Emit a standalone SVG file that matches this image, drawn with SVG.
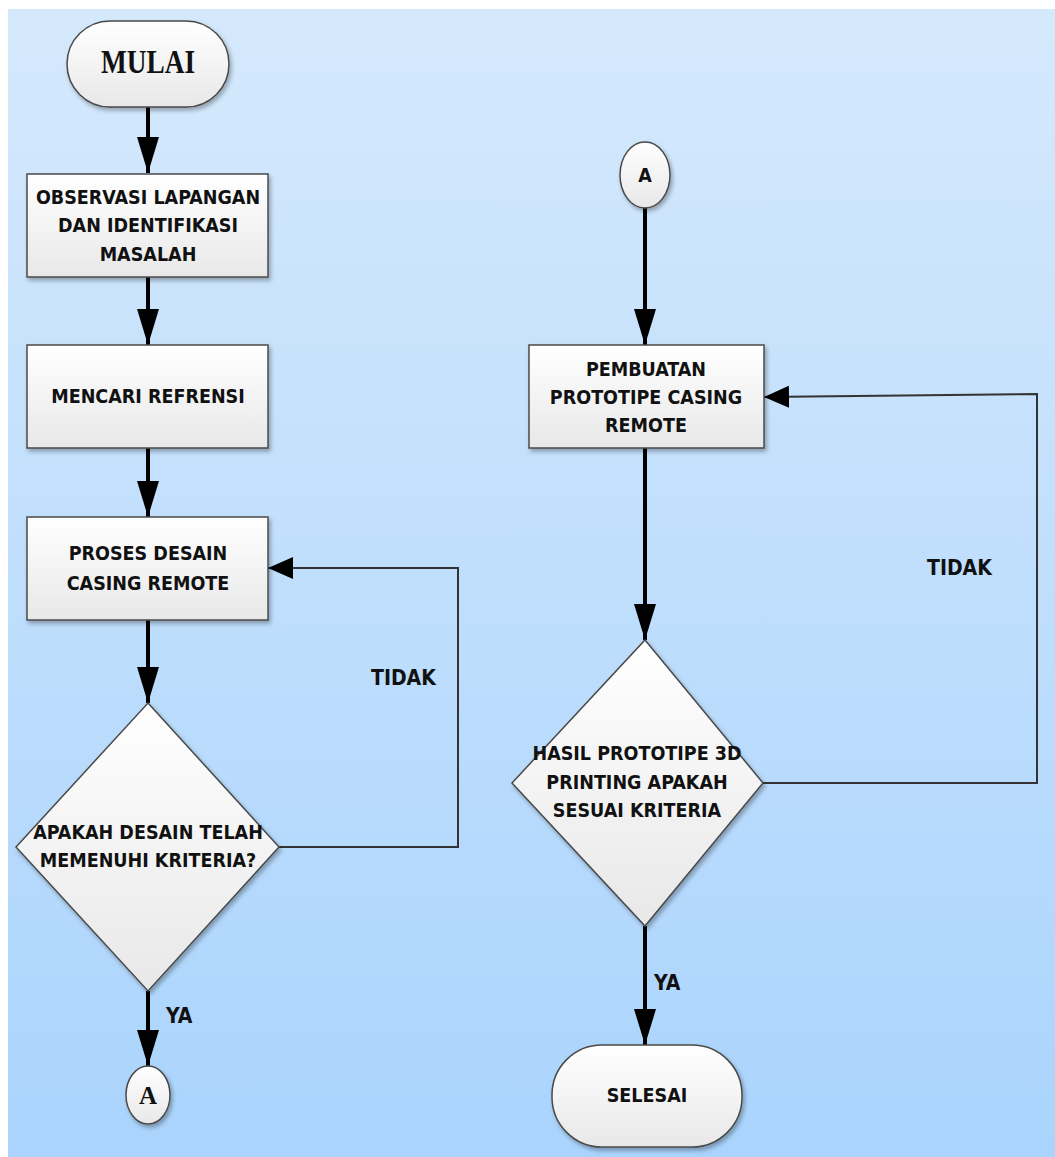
<svg xmlns="http://www.w3.org/2000/svg" width="1055" height="1157" viewBox="0 0 1055 1157">
<defs>
<linearGradient id="bg" x1="0" y1="0" x2="0" y2="1">
<stop offset="0" stop-color="#d5e9fc"/>
<stop offset="1" stop-color="#aad4fd"/>
</linearGradient>
<linearGradient id="shape" x1="0" y1="0" x2="0" y2="1">
<stop offset="0" stop-color="#ffffff"/>
<stop offset="1" stop-color="#e8e8e8"/>
</linearGradient>
<filter id="sh" x="-10%" y="-10%" width="130%" height="130%">
<feDropShadow dx="2" dy="3" stdDeviation="2" flood-color="#000" flood-opacity="0.3"/>
</filter>
<marker id="big" markerUnits="userSpaceOnUse" markerWidth="36" markerHeight="22" viewBox="0 0 36 22" refX="36" refY="11" orient="auto">
<path d="M0,0 L36,11 L0,22 z" fill="#000"/>
</marker>
<marker id="small" markerUnits="userSpaceOnUse" markerWidth="25" markerHeight="22" viewBox="0 0 25 22" refX="25" refY="11" orient="auto">
<path d="M0,0 L25,11 L0,22 z" fill="#000"/>
</marker>
</defs>
<style>
.s{fill:url(#shape);stroke:#4a4a4a;stroke-width:1.5;filter:url(#sh)}
.t{font-family:"DejaVu Sans Condensed","DejaVu Sans",sans-serif;font-weight:bold;font-size:19.5px;fill:#111;text-anchor:middle}
.lbl{font-family:"DejaVu Sans Condensed","DejaVu Sans",sans-serif;font-weight:bold;font-size:21px;fill:#111}
.serif{font-family:"Liberation Serif",serif;font-weight:bold;fill:#111;text-anchor:middle}
.thick{stroke:#000;stroke-width:4;fill:none;marker-end:url(#big)}
.thin{stroke:#333;stroke-width:2;fill:none;marker-end:url(#small)}
</style>
<rect x="0" y="0" width="1055" height="1157" fill="#fff"/>
<rect x="8" y="9" width="1047" height="1148" fill="url(#bg)"/>

<g id="connectors">
<line class="thick" x1="148" y1="107" x2="148" y2="173"/>
<line class="thick" x1="148" y1="277" x2="148" y2="345"/>
<line class="thick" x1="148" y1="448" x2="148" y2="517"/>
<line class="thick" x1="148" y1="620" x2="148" y2="703"/>
<line class="thick" x1="148" y1="991" x2="148" y2="1066"/>
<polyline class="thin" points="278,847 458,847 458,568 268,568"/>
<line class="thick" x1="645" y1="208" x2="645" y2="345"/>
<line class="thick" x1="645" y1="448" x2="645" y2="640"/>
<line class="thick" x1="645" y1="926" x2="645" y2="1045"/>
<polyline class="thin" points="763,783 1037,783 1037,394 764,397"/>
<text class="lbl" x="371" y="685">TIDAK</text>
<text class="lbl" x="927" y="575">TIDAK</text>
<text class="lbl" x="166" y="1023">YA</text>
<text class="lbl" x="654" y="990">YA</text>
</g>

<g id="mulai">
<rect class="s" x="67" y="21" width="162" height="86" rx="43" ry="43"/>
<text class="serif" x="148" y="73" font-size="34" textLength="94" lengthAdjust="spacingAndGlyphs">MULAI</text>
</g>
<g id="observasi">
<rect class="s" x="27" y="174" width="241" height="103"/>
<text class="t" x="148" y="204">OBSERVASI LAPANGAN</text>
<text class="t" x="148" y="232">DAN IDENTIFIKASI</text>
<text class="t" x="148" y="261">MASALAH</text>
</g>
<g id="mencari">
<rect class="s" x="27" y="345" width="241" height="103"/>
<text class="t" x="148" y="403">MENCARI REFRENSI</text>
</g>
<g id="proses">
<rect class="s" x="27" y="517" width="241" height="103"/>
<text class="t" x="148" y="560">PROSES DESAIN</text>
<text class="t" x="148" y="590">CASING REMOTE</text>
</g>
<g id="keputusan1">
<polygon class="s" points="148,703 279,847 148,991 16,847"/>
<text class="t" x="148" y="839">APAKAH DESAIN TELAH</text>
<text class="t" x="148" y="867">MEMENUHI KRITERIA?</text>
</g>
<g id="a1">
<ellipse class="s" cx="148" cy="1095" rx="22" ry="29"/>
<text class="serif" x="148" y="1104" font-size="25">A</text>
</g>
<g id="a2">
<ellipse class="s" cx="645" cy="175" rx="25" ry="33"/>
<text class="t" x="645" y="182">A</text>
</g>
<g id="pembuatan">
<rect class="s" x="529" y="345" width="235" height="103"/>
<text class="t" x="646" y="376">PEMBUATAN</text>
<text class="t" x="646" y="404">PROTOTIPE CASING</text>
<text class="t" x="646" y="432">REMOTE</text>
</g>
<g id="keputusan2">
<polygon class="s" points="645,640 763,783 645,926 512,783"/>
<text class="t" x="637" y="760">HASIL PROTOTIPE 3D</text>
<text class="t" x="637" y="789">PRINTING APAKAH</text>
<text class="t" x="637" y="817">SESUAI KRITERIA</text>
</g>
<g id="selesai">
<rect class="s" x="552" y="1045" width="190" height="102" rx="50" ry="50"/>
<text class="t" x="647" y="1102">SELESAI</text>
</g>
</svg>
